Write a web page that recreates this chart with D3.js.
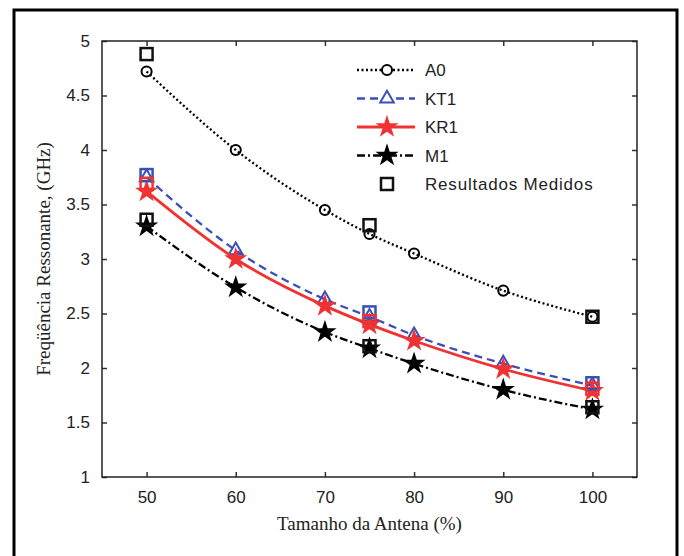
<!DOCTYPE html>
<html>
<head>
<meta charset="utf-8">
<script src="https://cdn.jsdelivr.net/npm/d3@7"></script>
<style>
body { margin: 0; background: #fff; }
svg text { font-family: "Liberation Sans", Arial, sans-serif; }
.title { font-family: "Liberation Serif", "DejaVu Serif", serif; }
</style>
</head>
<body>
<div id="chart"></div>
<script>
var width = 684, height = 556;

// chart data
var sizes = [50, 60, 70, 75, 80, 90, 100];
var a0 = [4.72, 4.00, 3.45, 3.23, 3.05, 2.71, 2.47];
var kt1 = [3.75, 3.08, 2.63, 2.47, 2.30, 2.04, 1.84];
var kr1 = [3.62, 3.00, 2.57, 2.40, 2.25, 1.99, 1.79];
var m1 = [3.30, 2.74, 2.33, 2.18, 2.04, 1.80, 1.62];
var measuredSizes = [50, 75, 100];
var a0Measured = [4.88, 3.31, 2.47];
var kt1Measured = [3.77, 2.51, 1.86];
var kr1Measured = [3.69, 2.43, 1.81];
var m1Measured = [3.36, 2.20, 1.64];
var xTicks = [50, 60, 70, 80, 90, 100];
var yTicks = [1, 1.5, 2, 2.5, 3, 3.5, 4, 4.5, 5];

var svg = d3.select("#chart").append("svg").attr("width", width).attr("height", height);

// outer frame
svg.append("rect").attr("x", 14).attr("y", 10).attr("width", 663).attr("height", 560)
   .attr("fill", "none").attr("stroke", "#000").attr("stroke-width", 3);

var pLeft = 102, pRight = 637, pTop = 41, pBottom = 477;
var x = d3.scaleLinear().domain([45, 105]).range([pLeft, pRight]);
var y = d3.scaleLinear().domain([1, 5]).range([pBottom, pTop]);

// axes with inward ticks on all sides
function fmt(d) { return d3.format("")(d); }
svg.append("g").attr("transform", "translate(0," + pBottom + ")")
   .call(d3.axisBottom(x).tickValues(xTicks).tickSize(-5).tickPadding(14).tickFormat(fmt))
   .call(g => g.select(".domain").remove());
svg.append("g").attr("transform", "translate(0," + pTop + ")")
   .call(d3.axisTop(x).tickValues(xTicks).tickSize(-5).tickFormat(""))
   .call(g => g.select(".domain").remove());
svg.append("g").attr("transform", "translate(" + pLeft + ",0)")
   .call(d3.axisLeft(y).tickValues(yTicks).tickSize(-5).tickPadding(12).tickFormat(fmt))
   .call(g => g.select(".domain").remove());
svg.append("g").attr("transform", "translate(" + pRight + ",0)")
   .call(d3.axisRight(y).tickValues(yTicks).tickSize(-5).tickFormat(""))
   .call(g => g.select(".domain").remove());
svg.selectAll(".tick text").attr("font-size", 17).attr("fill", "#222")
   .attr("font-family", "'Liberation Sans Narrow', 'Liberation Sans', sans-serif");
svg.selectAll(".tick line").attr("stroke", "#333").attr("stroke-width", 1.5);

svg.append("rect").attr("x", pLeft).attr("y", pTop).attr("width", pRight - pLeft).attr("height", pBottom - pTop)
   .attr("fill", "none").attr("stroke", "#222").attr("stroke-width", 1.5);

// axis titles
svg.append("text").attr("class", "title").attr("x", (pLeft + pRight) / 2).attr("y", 530)
   .attr("text-anchor", "middle").attr("font-size", 19).attr("fill", "#222").text("Tamanho da Antena (%)");
svg.append("text").attr("class", "title").attr("transform", "translate(50," + ((pTop + pBottom) / 2) + ") rotate(-90)")
   .attr("text-anchor", "middle").attr("font-size", 19).attr("fill", "#222").text("Freqüência Ressonante, (GHz)");

var series = [
  {name: "A0", values: a0, measured: a0Measured, color: "#000", dash: "2,2.5", symbol: d3.symbolCircle, size: 80, fill: "none", sq: "#111"},
  {name: "KT1", values: kt1, measured: kt1Measured, color: "#3a50b4", dash: "8,5", symbol: d3.symbolTriangle, size: 80, fill: "none", sq: "#3a50b4"},
  {name: "KR1", values: kr1, measured: kr1Measured, color: "#f03232", dash: null, symbol: d3.symbolStar, size: 90, fill: "#f03232", sq: "#f03232"},
  {name: "M1", values: m1, measured: m1Measured, color: "#000", dash: "8,3,2,3", symbol: d3.symbolStar, size: 90, fill: "#000", sq: "#111"}
];

var line = d3.line().x(d => x(d[0])).y(d => y(d[1])).curve(d3.curveMonotoneX);

series.forEach(function(s) {
  var pts = sizes.map((v, i) => [v, s.values[i]]);
  svg.append("path").attr("d", line(pts)).attr("fill", "none").attr("stroke", s.color)
     .attr("stroke-width", s.name == "KR1" ? 2.8 : 2.3).attr("stroke-dasharray", s.dash);
  svg.selectAll(null).data(pts).enter().append("path")
     .attr("d", d3.symbol().type(s.symbol).size(s.size))
     .attr("transform", d => "translate(" + x(d[0]) + "," + y(d[1]) + ")")
     .attr("fill", s.fill).attr("stroke", s.color).attr("stroke-width", 2);
});

// measured results
series.forEach(function(s) {
  svg.selectAll(null).data(measuredSizes.map((v, i) => [v, s.measured[i]])).enter().append("rect")
     .attr("x", d => x(d[0]) - 6).attr("y", d => y(d[1]) - 6).attr("width", 12).attr("height", 12)
     .attr("fill", "none").attr("stroke", s.sq).attr("stroke-width", 2.5);
});

// legend
var legendX = 357, legendY = 70, legendStep = 28.5;
series.forEach(function(s, i) {
  var ly = legendY + i * legendStep;
  svg.append("line").attr("x1", legendX).attr("x2", legendX + 58).attr("y1", ly).attr("y2", ly)
     .attr("stroke", s.color).attr("stroke-width", s.name == "KR1" ? 2.8 : 2.3).attr("stroke-dasharray", s.dash);
  svg.append("path").attr("d", d3.symbol().type(s.symbol).size(s.size))
     .attr("transform", "translate(" + (legendX + 30) + "," + ly + ")")
     .attr("fill", s.name == "A0" || s.name == "KT1" ? "#fff" : s.fill).attr("stroke", s.color).attr("stroke-width", 2);
  svg.append("text").attr("x", legendX + 68).attr("y", ly + 6).attr("font-size", 17).attr("fill", "#222").text(s.name);
});
var sqY = legendY + 4 * legendStep;
svg.append("rect").attr("x", legendX + 24).attr("y", sqY - 6).attr("width", 12).attr("height", 12)
   .attr("fill", "none").attr("stroke", "#111").attr("stroke-width", 2.5);
svg.append("text").attr("x", legendX + 68).attr("y", sqY + 6).attr("font-size", 17).attr("letter-spacing", 0.8)
   .attr("fill", "#222").text("Resultados Medidos");
</script>
</body>
</html>
